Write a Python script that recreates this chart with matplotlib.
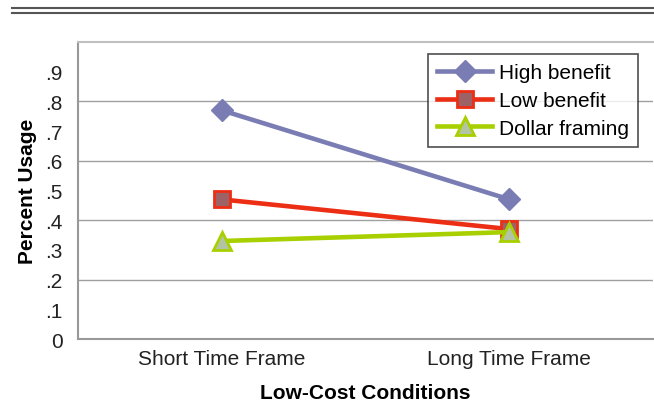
import matplotlib.pyplot as plt
from matplotlib.lines import Line2D

plt.rcParams['font.family'] = ['Liberation Sans', 'DejaVu Sans']

# Data
conditions = ['Short Time Frame', 'Long Time Frame']
high_benefit = [0.77, 0.47]
low_benefit = [0.47, 0.37]
dollar_framing = [0.33, 0.36]
ytick_vals = [0, 0.1, 0.2, 0.3, 0.4, 0.5, 0.6, 0.7, 0.8, 0.9]
ytick_labels = ['0', '.1', '.2', '.3', '.4', '.5', '.6', '.7', '.8', '.9']

fs = 15

fig = plt.figure(figsize=(6.54, 4.02), dpi=100)
ax = fig.add_axes([0.1193, 0.1542, 0.8795, 0.7388])

x = range(len(conditions))
ax.plot(x, high_benefit, color='#7a7db3', lw=3.3, marker='D', ms=11,
        mfc='#7a7db3', mec='#7a7db3', label='High benefit', zorder=3)
ax.plot(x, low_benefit, color='#ec2e14', lw=3.3, marker='s', ms=12,
        mfc='#9c6266', mec='#ec2e14', mew=2, label='Low benefit', zorder=4)
ax.plot(x, dollar_framing, color='#a8d000', lw=3.3, marker='^', ms=13,
        mfc='#b3c4a4', mec='#a8d000', mew=2, label='Dollar framing', zorder=5)

ax.set_xlim(-0.5, 1.5)
ax.set_ylim(0, 1.0)
ax.set_xticks(list(x))
ax.set_xticklabels(conditions, fontsize=fs, color='#222222')
ax.set_yticks(ytick_vals)
ax.set_yticklabels(ytick_labels, fontsize=fs, color='#222222')
ax.tick_params(axis='x', length=0, pad=7)
ax.tick_params(axis='y', length=0, pad=11)

# gridlines only every .2
for g in [0.2, 0.4, 0.6, 0.8]:
    ax.axhline(g, color='#a0a0a0', lw=1, zorder=1)

for side in ['left', 'bottom']:
    ax.spines[side].set_color('#999999')
    ax.spines[side].set_linewidth(1.5)
ax.spines['top'].set_color('#c0c0c0')
ax.spines['top'].set_linewidth(1.5)
ax.spines['right'].set_visible(False)

ax.set_xlabel('Low-Cost Conditions', fontsize=fs, fontweight='bold', labelpad=11)
ax.set_ylabel('Percent Usage', fontsize=fs, fontweight='bold', labelpad=6)

leg = ax.legend(loc='upper right', bbox_to_anchor=(0.974, 0.96), fontsize=fs,
                frameon=True, fancybox=False, edgecolor='#222222',
                handlelength=2.6, borderpad=0.45, labelspacing=0.42,
                handletextpad=0.35, borderaxespad=0)
leg.get_frame().set_linewidth(1.2)

# double rule across the top
for yy in [0.9764, 0.9664]:
    fig.add_artist(Line2D([0.018, 1.0], [yy, yy], color='#555555', lw=1.5,
                          transform=fig.transFigure))

fig.savefig('out.png', dpi=100)
